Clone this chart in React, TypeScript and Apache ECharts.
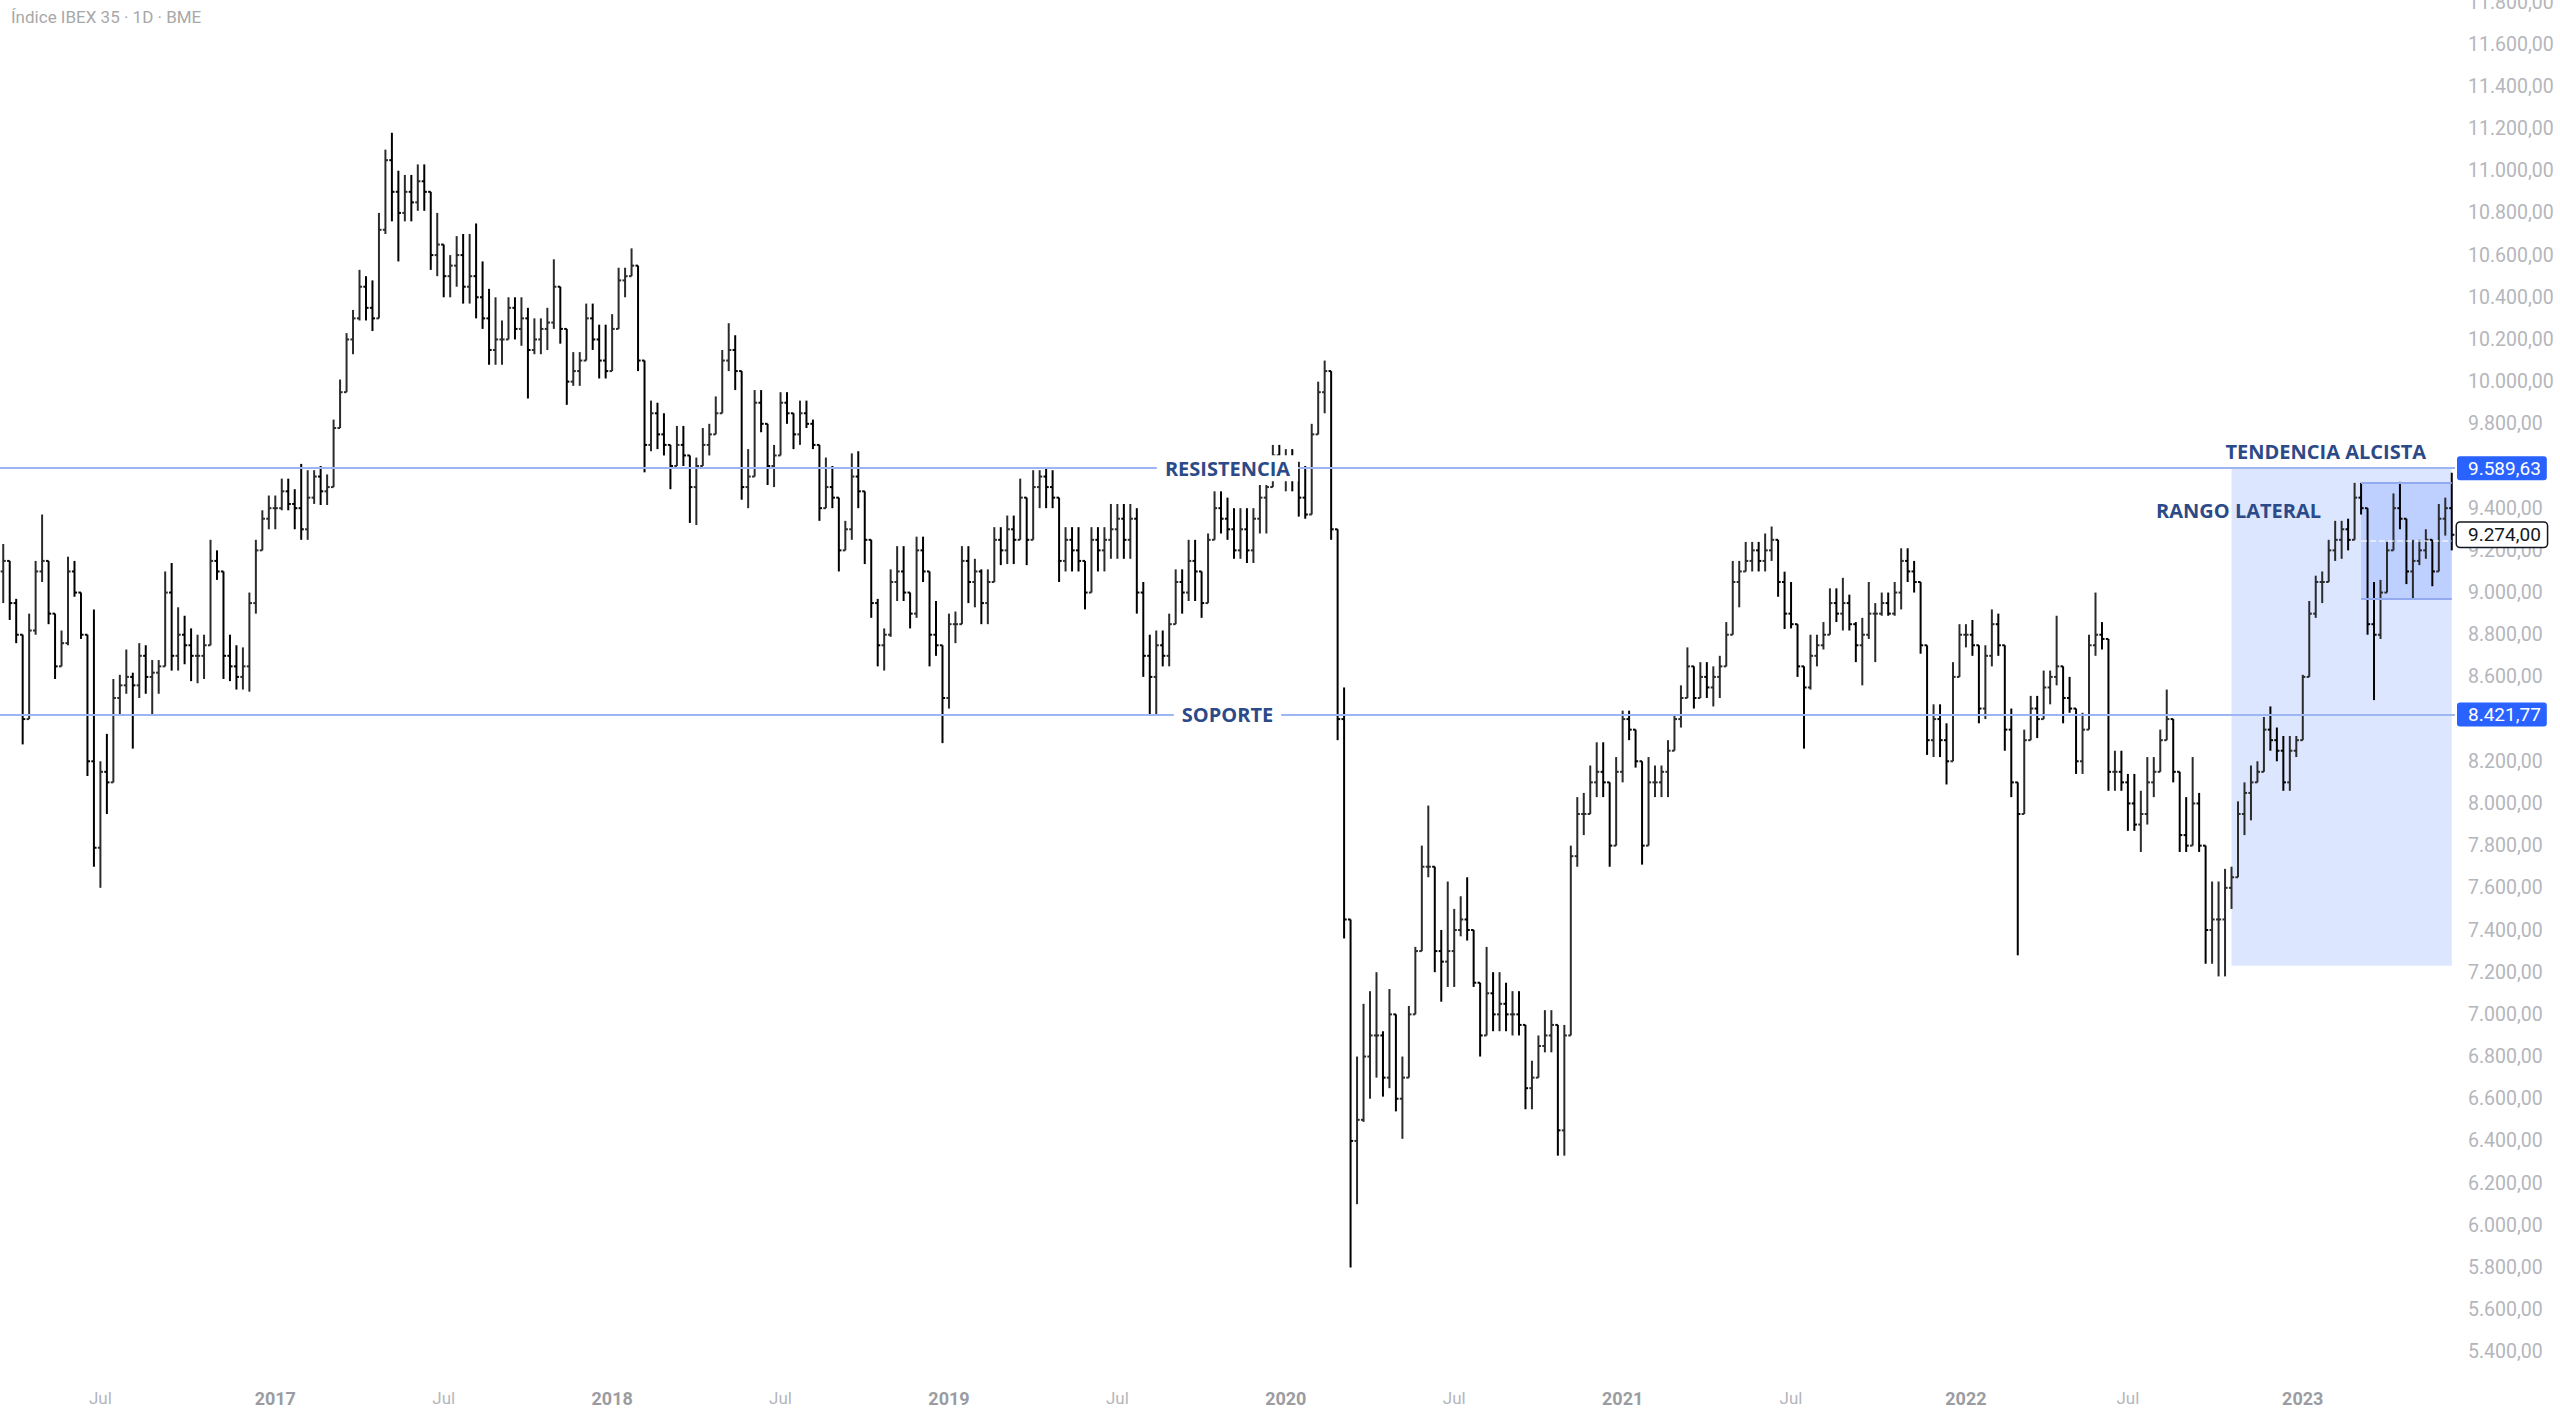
import React, { useEffect, useRef } from "react";
import * as echarts from "echarts";

// Weekly bars (week starting Monday 2016-03-14)
const START_YEAR = 2016;
const START_MONTH = 2; // March (0-based)
const START_DAY = 14;
const FIRST_OPEN = 9100;

const LOWS = [
  8950, 8870, 8760, 8280, 8450, 8800, 9050, 8850, 8590, 8650,
  8750, 8980, 8780, 8130, 7700, 7600, 7950, 8100, 8420, 8520,
  8260, 8500, 8520, 8420, 8520, 8650, 8630, 8630, 8660, 8580,
  8570, 8590, 8750, 9060, 8590, 8580, 8540, 8540, 8530, 8900,
  9220, 9300, 9300, 9390, 9390, 9300, 9250, 9250, 9420, 9415,
  9415, 9500, 9800, 9990, 10130, 10290, 10290, 10240, 10350, 10700,
  10760, 10570, 10760, 10760, 10810, 10810, 10530, 10500, 10400, 10400,
  10450, 10370, 10370, 10300, 10250, 10080, 10080, 10080, 10200, 10200,
  10170, 9920, 10130, 10130, 10150, 10250, 10180, 9890, 9980, 9980,
  10150, 10150, 10015, 10015, 10080, 10370, 10400, 10500, 10050, 9570,
  9670, 9680, 9650, 9490, 9620, 9600, 9330, 9320, 9600, 9650,
  9750, 9850, 10050, 9960, 9440, 9400, 9560, 9760, 9510, 9500,
  9650, 9800, 9680, 9700, 9780, 9680, 9340, 9400, 9400, 9100,
  9200, 9250, 9400, 9135, 8880, 8650, 8630, 8790, 8960, 8960,
  8830, 8880, 9050, 8650, 8700, 8286, 8450, 8760, 8850, 8950,
  8930, 8850, 8850, 9130, 9130, 9135, 9135, 9300, 9130, 9350,
  9400, 9400, 9400, 9050, 9100, 9100, 9100, 8920, 9000, 9100,
  9100, 9160, 9160, 9160, 9160, 8900, 8600, 8420, 8420, 8650,
  8650, 8900, 8900, 8960, 8960, 8880, 8990, 9280, 9280, 9250,
  9160, 9160, 9140, 9140, 9280, 9280, 9540, 9540, 9480, 9480,
  9360, 9350, 9370, 9750, 9850, 9250, 8300, 7360, 5800, 6100,
  6490, 6600, 6700, 6610, 6650, 6540, 6410, 6700, 7000, 7300,
  7650, 7200, 7060, 7130, 7130, 7370, 7350, 7130, 6800, 6960,
  6920, 6920, 6920, 6900, 6900, 6550, 6550, 6750, 6820, 6820,
  6330, 6330, 6900, 7700, 7850, 8050, 8030, 8030, 7700, 7800,
  8100, 8300, 8170, 7710, 7800, 8030, 8030, 8030, 8270, 8360,
  8500, 8450, 8500, 8500, 8460, 8500, 8650, 8800, 8930, 9100,
  9100, 9100, 9100, 9150, 8980, 8827, 8830, 8600, 8260, 8540,
  8650, 8730, 8800, 8860, 8820, 8820, 8670, 8560, 8780, 8670,
  8890, 8890, 8890, 8920, 9050, 9000, 8710, 8230, 8220, 8220,
  8090, 8200, 8600, 8740, 8700, 8380, 8400, 8650, 8700, 8250,
  8030, 7280, 7990, 8310, 8310, 8470, 8470, 8560, 8380, 8430,
  8140, 8140, 8380, 8700, 8730, 8060, 8060, 8060, 7870, 7870,
  7770, 7900, 8030, 8190, 8300, 8100, 7770, 7770, 7800, 7770,
  7240, 7240, 7180, 7180, 7500, 7650, 7850, 7920, 8100, 8150,
  8250, 8200, 8060, 8060, 8220, 8300, 8600, 8880, 8950, 9050,
  9150, 9160, 9200, 9250, 9370, 8800, 8490, 8780, 9000, 9200,
  9300, 9040, 8970, 9130, 9160, 9030, 9100, 9270, 9200,
];

const HIGHS = [
  9230, 9150, 8970, 8720, 8900, 9150, 9370, 9100, 8850, 8820,
  9170, 9150, 9000, 8750, 8920, 8200, 8330, 8590, 8610, 8730,
  8620, 8760, 8750, 8680, 8680, 9100, 9140, 8930, 8890, 8830,
  8800, 8800, 9250, 9200, 9000, 8800, 8750, 8740, 9000, 9250,
  9390, 9460, 9460, 9540, 9540, 9490, 9610, 9580, 9580, 9600,
  9560, 9820, 10010, 10230, 10340, 10530, 10500, 10480, 10800, 11100,
  11180, 11000, 10980, 10980, 11030, 11030, 10880, 10800, 10610, 10600,
  10690, 10700, 10700, 10750, 10570, 10440, 10400, 10290, 10400, 10400,
  10400, 10350, 10300, 10300, 10350, 10580, 10450, 10200, 10140, 10140,
  10370, 10370, 10270, 10270, 10320, 10540, 10540, 10632, 10540, 9990,
  9910, 9900, 9850, 9680, 9790, 9790, 9640, 9640, 9780, 9800,
  9930, 10150, 10277, 10220, 10000, 9680, 9960, 9960, 9800, 9700,
  9950, 9950, 9850, 9910, 9910, 9820, 9700, 9640, 9600, 9420,
  9340, 9660, 9670, 9480, 9150, 8970, 8830, 9110, 9220, 9220,
  9000, 9265, 9265, 9000, 8960, 8600, 8900, 8910, 9220, 9220,
  9160, 9110, 9110, 9310, 9310, 9365, 9365, 9540, 9400, 9580,
  9580, 9590, 9580, 9400, 9310, 9310, 9310, 9110, 9310, 9310,
  9310, 9420, 9420, 9420, 9420, 9400, 9050, 8800, 8820, 8820,
  8900, 9110, 9110, 9250, 9250, 9050, 9280, 9480, 9480, 9450,
  9400, 9400, 9400, 9400, 9510, 9510, 9700, 9700, 9680, 9680,
  9620, 9600, 9800, 10000, 10100, 10050, 9300, 8550, 7450, 6800,
  7050, 7110, 7200, 6920, 7120, 6850, 6800, 7040, 7320, 7800,
  7990, 7600, 7400, 7630, 7500, 7560, 7650, 7320, 7090, 7320,
  7200, 7200, 7150, 7110, 7110, 6780, 6780, 6900, 7020, 7020,
  6900, 6950, 7800, 8030, 8050, 8180, 8290, 8290, 8030, 8220,
  8440, 8440, 8350, 8080, 8220, 8180, 8180, 8300, 8420, 8560,
  8740, 8650, 8670, 8670, 8650, 8700, 8860, 9150, 9150, 9240,
  9240, 9240, 9280, 9313, 9220, 9099, 9050, 8840, 8640, 8800,
  8800, 8860, 9020, 9020, 9070, 8990, 8860, 8880, 9050, 8950,
  9000, 9000, 9050, 9210, 9210, 9150, 9000, 8700, 8470, 8470,
  8380, 8670, 8850, 8850, 8870, 8700, 8750, 8920, 8900, 8680,
  8450, 8000, 8350, 8510, 8510, 8630, 8630, 8890, 8640, 8600,
  8430, 8430, 8800, 9000, 8860, 8450, 8250, 8250, 8140, 8140,
  8060, 8220, 8220, 8350, 8540, 8400, 8130, 8030, 8220, 8050,
  7700, 7630, 7630, 7690, 7700, 8010, 8100, 8180, 8200, 8410,
  8460, 8360, 8320, 8320, 8320, 8610, 8960, 9080, 9100, 9250,
  9340, 9340, 9350, 9520, 9520, 9400, 9050, 9060, 9240, 9470,
  9525, 9350, 9250, 9250, 9300, 9250, 9420, 9450, 9568,
];

const CLOSES = [
  9150, 8950, 8800, 8400, 8820, 9100, 9150, 8900, 8650, 8760,
  9100, 9000, 8800, 8200, 7790, 8150, 8100, 8500, 8560, 8600,
  8560, 8700, 8600, 8620, 8650, 9000, 8700, 8800, 8750, 8700,
  8700, 8750, 9150, 9100, 8700, 8650, 8600, 8650, 8950, 9200,
  9350, 9400, 9400, 9480, 9420, 9400, 9300, 9450, 9550, 9480,
  9500, 9780, 9950, 10200, 10300, 10450, 10350, 10300, 10720, 11050,
  10900, 10800, 10900, 10850, 10950, 10900, 10600, 10650, 10500, 10550,
  10600, 10450, 10500, 10400, 10300, 10150, 10200, 10200, 10350, 10250,
  10300, 10150, 10200, 10250, 10280, 10450, 10250, 10000, 10050, 10100,
  10300, 10200, 10100, 10050, 10250, 10480, 10500, 10550, 10100, 9700,
  9850, 9750, 9700, 9600, 9700, 9650, 9500, 9600, 9700, 9750,
  9850, 10100, 10150, 10050, 9500, 9550, 9900, 9800, 9600, 9650,
  9900, 9850, 9750, 9850, 9800, 9700, 9400, 9500, 9450, 9200,
  9300, 9550, 9480, 9250, 8950, 8750, 8800, 9050, 9100, 9000,
  8900, 9200, 9100, 8800, 8750, 8500, 8850, 8850, 9150, 9050,
  9100, 8950, 9050, 9250, 9200, 9300, 9250, 9450, 9250, 9500,
  9550, 9500, 9450, 9150, 9250, 9200, 9150, 9000, 9250, 9200,
  9250, 9300, 9350, 9250, 9350, 9000, 8700, 8600, 8750, 8700,
  8850, 9050, 9000, 9150, 9100, 8950, 9250, 9400, 9350, 9300,
  9200, 9300, 9200, 9350, 9450, 9500, 9650, 9600, 9600, 9550,
  9450, 9370, 9750, 9950, 10050, 9300, 8400, 7450, 6400, 6500,
  6800, 6900, 6900, 6700, 7000, 6600, 6700, 7000, 7300, 7700,
  7700, 7300, 7250, 7300, 7400, 7450, 7400, 7150, 6900, 7100,
  7000, 7050, 7000, 7000, 6950, 6650, 6700, 6850, 6900, 6950,
  6450, 6900, 7750, 7950, 7950, 8100, 8150, 8100, 7800, 8150,
  8400, 8350, 8200, 7800, 8100, 8100, 8150, 8250, 8400, 8500,
  8650, 8500, 8600, 8550, 8600, 8650, 8800, 9050, 9100, 9150,
  9200, 9150, 9200, 9250, 9050, 8900, 8850, 8650, 8550, 8700,
  8750, 8800, 8950, 8900, 8950, 8850, 8750, 8800, 8900, 8900,
  8950, 8900, 9000, 9150, 9100, 9050, 8750, 8300, 8400, 8300,
  8200, 8600, 8800, 8800, 8750, 8450, 8700, 8850, 8750, 8350,
  8100, 7950, 8300, 8450, 8400, 8550, 8600, 8650, 8500, 8450,
  8200, 8350, 8750, 8800, 8780, 8150, 8150, 8100, 8000, 7900,
  7950, 8100, 8150, 8300, 8400, 8150, 7850, 7800, 8000, 7800,
  7400, 7450, 7450, 7600, 7650, 7950, 8050, 8100, 8150, 8350,
  8300, 8250, 8100, 8250, 8300, 8600, 8900, 9050, 9050, 9200,
  9250, 9300, 9250, 9450, 9400, 8850, 8800, 9000, 9200, 9400,
  9350, 9100, 9150, 9200, 9250, 9100, 9350, 9400, 9274,
];

const RESISTANCE = 9589.63;
const SUPPORT = 8421.77;
const LAST_PRICE = 9274.0;
const TREND_BOX = { fromWeek: 344, toWeek: 378, top: 9589.63, bottom: 7230 };
const RANGE_BOX = { fromWeek: 364, toWeek: 378, top: 9520, bottom: 8970, mid: 9245 };
const Y_MIN = 5200;
const Y_MAX = 11800;
const Y_STEP = 200;
// axis ticks fully hidden behind the price boxes in the reference
const HIDDEN_TICKS = [9600, 8400];
const TITLE = "Índice IBEX 35 · 1D · BME";

const weekDate = (i: number, addDays = 0) =>
  new Date(Date.UTC(START_YEAR, START_MONTH, START_DAY + 7 * i + addDays));
const WEEKS = CLOSES.map((_, i) => weekDate(i).toISOString().slice(0, 10));
const OHLC = CLOSES.map((c, i) => [i, i === 0 ? FIRST_OPEN : CLOSES[i - 1], c, LOWS[i], HIGHS[i]]);

const fmt = (v: number) => {
  const [int, dec] = v.toFixed(2).split(".");
  return int.replace(/\B(?=(\d{3})+(?!\d))/g, ".") + "," + dec;
};

const LABEL_IDX = new Set<number>();
for (let i = 1; i < WEEKS.length; i++) {
  const m = weekDate(i, 4).getUTCMonth();
  const pm = weekDate(i - 1, 4).getUTCMonth();
  if (m !== pm && (m === 0 || m === 6)) LABEL_IDX.add(i);
}

const AXIS_FONT = "Roboto, 'Noto Sans', sans-serif";
const ANNOT_FONT = "'Open Sans', Roboto, sans-serif";
const NAVY = "#2c4a88";
const LINE_BLUE = "#9db5f0";

export default function App() {
  const ref = useRef<HTMLDivElement>(null);
  useEffect(() => {
    document.body.style.margin = "0";
    if (!ref.current) return;
    const chart = echarts.init(ref.current, undefined, { renderer: "svg" });
    const annot = {
      color: NAVY,
      fontFamily: ANNOT_FONT,
      fontWeight: 700,
      fontSize: 20,
    };
    const priceBox = (text: string, bg: string, fg: string, border?: string) => ({
      show: true,
      position: "end",
      distance: 2,
      opacity: 1,
      formatter: text,
      backgroundColor: bg,
      color: fg,
      fontFamily: AXIS_FONT,
      fontSize: 19,
      lineHeight: 19,
      padding: [3, 6, 2, 11],
      borderRadius: 3,
      borderColor: border || bg,
      borderWidth: border ? 1.5 : 0,
    });
    chart.setOption({
      animation: false,
      backgroundColor: "#ffffff",
      title: {
        text: TITLE,
        left: 6,
        top: 3,
        textStyle: { color: "#a8a8a8", fontSize: 17, fontWeight: "normal", fontFamily: AXIS_FONT },
      },
      grid: { left: 0, right: 105, top: 2, bottom: 19, containLabel: false, outerBoundsMode: "none" },
      xAxis: {
        type: "category",
        data: WEEKS,
        boundaryGap: true,
        axisLine: { show: false },
        axisTick: { show: false },
        splitLine: { show: false },
        axisLabel: {
          interval: (index: number) => LABEL_IDX.has(index),
          margin: 4,
          verticalAlign: "middle",
          formatter: (_v: string, index: number) => {
            const d = weekDate(index, 4);
            return d.getUTCMonth() === 0 ? `{yr|${d.getUTCFullYear()}}` : "{mo|Jul}";
          },
          rich: {
            yr: { color: "#9a9ca2", fontSize: 18, fontWeight: 700, fontFamily: AXIS_FONT },
            mo: { color: "#b4b6bc", fontSize: 17, fontFamily: AXIS_FONT },
          },
        },
      },
      yAxis: {
        type: "value",
        position: "right",
        min: Y_MIN,
        max: Y_MAX,
        interval: Y_STEP,
        axisLine: { show: false },
        axisTick: { show: false },
        splitLine: { show: false },
        axisLabel: {
          showMinLabel: false,
          margin: 13,
          color: "#b4b6bc",
          fontSize: 19.5,
          fontFamily: AXIS_FONT,
          formatter: (v: number) => (HIDDEN_TICKS.includes(v) ? "" : fmt(v)),
        },
      },
      series: [
        {
          type: "line",
          name: "areas",
          data: [],
          z: 1,
          clip: false,
          silent: true,
          markArea: {
            silent: true,
            data: [
              [
                {
                  name: "TENDENCIA ALCISTA",
                  xAxis: WEEKS[TREND_BOX.fromWeek],
                  yAxis: TREND_BOX.top,
                  itemStyle: { color: "rgba(41,98,255,0.16)" },
                  label: {
                    show: true,
                    position: [-6, -27],
                    align: "left",
                    verticalAlign: "top",
                    formatter: "{b}",
                    ...annot,
                  },
                },
                { xAxis: WEEKS[TREND_BOX.toWeek], yAxis: TREND_BOX.bottom },
              ],
              [
                {
                  name: "RANGO LATERAL",
                  xAxis: WEEKS[RANGE_BOX.fromWeek],
                  yAxis: RANGE_BOX.top,
                  itemStyle: { color: "rgba(41,98,255,0.17)" },
                  label: {
                    show: true,
                    position: [-40, 28],
                    align: "right",
                    verticalAlign: "middle",
                    formatter: "{b}",
                    ...annot,
                  },
                },
                { xAxis: WEEKS[RANGE_BOX.toWeek], yAxis: RANGE_BOX.bottom },
              ],
            ],
          },
        },
        {
          type: "line",
          name: "levels",
          data: [],
          z: 2,
          clip: false,
          silent: true,
          markLine: {
            silent: true,
            symbol: "none",
            lineStyle: { color: LINE_BLUE, width: 2, type: "solid" },
            data: [
              {
                yAxis: RESISTANCE,
                label: {
                  show: true,
                  position: "insideMiddle",
                  formatter: "RESISTENCIA",
                  backgroundColor: "#ffffff",
                  padding: [3, 8],
                  ...annot,
                },
              },
              {
                yAxis: SUPPORT,
                label: {
                  show: true,
                  position: "insideMiddle",
                  formatter: "SOPORTE",
                  backgroundColor: "#ffffff",
                  padding: [3, 8],
                  ...annot,
                },
              },
              [
                { coord: [WEEKS[RANGE_BOX.fromWeek], RANGE_BOX.top], lineStyle: { color: "#93abee", width: 2 }, label: { show: false } },
                { coord: [WEEKS[RANGE_BOX.toWeek], RANGE_BOX.top] },
              ],
              [
                { coord: [WEEKS[RANGE_BOX.fromWeek], RANGE_BOX.bottom], lineStyle: { color: "#93abee", width: 2 }, label: { show: false } },
                { coord: [WEEKS[RANGE_BOX.toWeek], RANGE_BOX.bottom] },
              ],
              [
                {
                  coord: [WEEKS[RANGE_BOX.fromWeek], RANGE_BOX.mid],
                  lineStyle: { color: "rgba(255,255,255,0.75)", width: 1.5, type: "dashed" },
                  label: { show: false },
                },
                { coord: [WEEKS[RANGE_BOX.toWeek], RANGE_BOX.mid] },
              ],
            ],
          },
        },
        {
          type: "custom",
          name: "IBEX 35",
          z: 3,
          clip: true,
          data: OHLC,
          encode: { x: 0, y: [1, 2, 3, 4] },
          renderItem: (_params: any, api: any) => {
            const i = api.value(0);
            const o = api.value(1);
            const c = api.value(2);
            const lo = Math.min(api.value(3), o, c);
            const hi = Math.max(api.value(4), o, c);
            const top = api.coord([i, hi]);
            const bot = api.coord([i, lo]);
            const po = api.coord([i, o]);
            const pc = api.coord([i, c]);
            const w = api.size([1, 0])[0];
            const t = Math.max(1.5, w * 0.4);
            const style = { stroke: c >= o ? "#2b2b2b" : "#000000", lineWidth: 2 };
            return {
              type: "group",
              children: [
                { type: "line", shape: { x1: top[0], y1: top[1], x2: bot[0], y2: bot[1] }, style },
                { type: "line", shape: { x1: po[0] - t, y1: po[1], x2: po[0], y2: po[1] }, style },
                { type: "line", shape: { x1: pc[0], y1: pc[1], x2: pc[0] + t, y2: pc[1] }, style },
              ],
            };
          },
        },
        {
          type: "line",
          name: "price labels",
          data: [],
          z: 5,
          clip: false,
          silent: true,
          markLine: {
            silent: true,
            symbol: "none",
            lineStyle: { color: "rgba(0,0,0,0)", width: 0 },
            data: [
              { yAxis: RESISTANCE, label: priceBox(fmt(RESISTANCE), "#2962ff", "#ffffff") },
              { yAxis: SUPPORT, label: priceBox(fmt(SUPPORT), "#2962ff", "#ffffff") },
              { yAxis: LAST_PRICE, label: priceBox(fmt(LAST_PRICE), "#ffffff", "#131722", "#131722") },
            ],
          },
        },
      ],
    });
    return () => chart.dispose();
  }, []);
  return <div ref={ref} style={{ width: 2560, height: 1413 }} />;
}
